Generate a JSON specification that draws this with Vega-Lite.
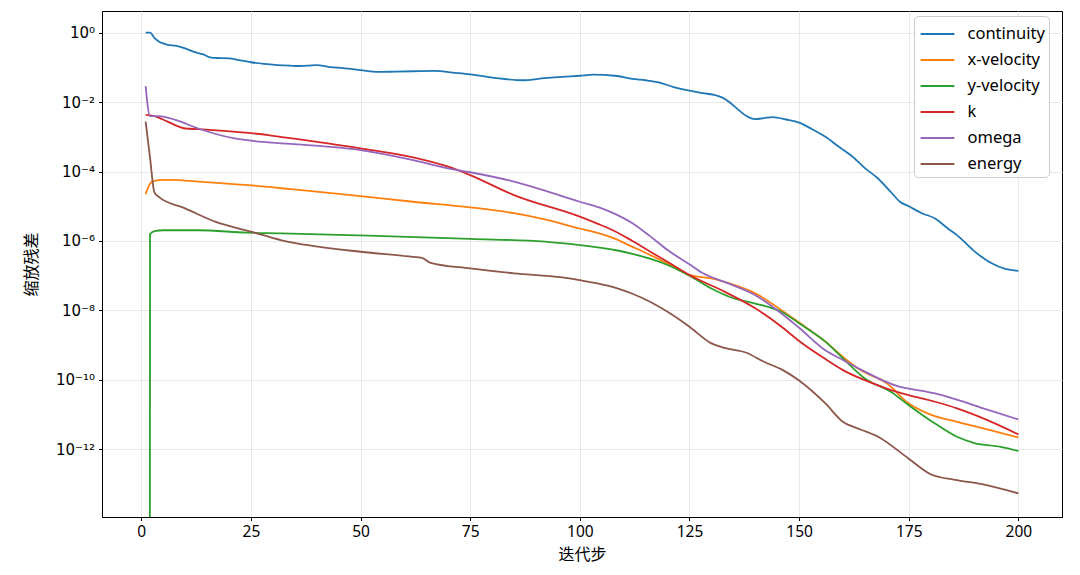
{
  "$schema": "https://vega.github.io/schema/vega-lite/v6.json",
  "width": 960,
  "height": 506,
  "autosize": {"type": "none"},
  "padding": {"left": 102, "top": 11, "right": 18, "bottom": 58},
  "background": "white",
  "data": {
    "values": [
      {"s": "continuity", "i": 1, "v": 1.0},
      {"s": "continuity", "i": 2, "v": 1.0},
      {"s": "continuity", "i": 3, "v": 0.708},
      {"s": "continuity", "i": 4, "v": 0.562},
      {"s": "continuity", "i": 5, "v": 0.49},
      {"s": "continuity", "i": 6, "v": 0.447},
      {"s": "continuity", "i": 8, "v": 0.417},
      {"s": "continuity", "i": 10, "v": 0.355},
      {"s": "continuity", "i": 12, "v": 0.282},
      {"s": "continuity", "i": 14, "v": 0.24},
      {"s": "continuity", "i": 16, "v": 0.191},
      {"s": "continuity", "i": 18, "v": 0.186},
      {"s": "continuity", "i": 20, "v": 0.182},
      {"s": "continuity", "i": 22, "v": 0.166},
      {"s": "continuity", "i": 25, "v": 0.141},
      {"s": "continuity", "i": 28, "v": 0.126},
      {"s": "continuity", "i": 31, "v": 0.117},
      {"s": "continuity", "i": 34, "v": 0.112},
      {"s": "continuity", "i": 36, "v": 0.11},
      {"s": "continuity", "i": 38, "v": 0.112},
      {"s": "continuity", "i": 40, "v": 0.117},
      {"s": "continuity", "i": 43, "v": 0.102},
      {"s": "continuity", "i": 46, "v": 0.0955},
      {"s": "continuity", "i": 50, "v": 0.0841},
      {"s": "continuity", "i": 54, "v": 0.0741},
      {"s": "continuity", "i": 58, "v": 0.0759},
      {"s": "continuity", "i": 62, "v": 0.0776},
      {"s": "continuity", "i": 67, "v": 0.0794},
      {"s": "continuity", "i": 71, "v": 0.0708},
      {"s": "continuity", "i": 75, "v": 0.0631},
      {"s": "continuity", "i": 81, "v": 0.049},
      {"s": "continuity", "i": 87, "v": 0.0427},
      {"s": "continuity", "i": 92, "v": 0.049},
      {"s": "continuity", "i": 96, "v": 0.0537},
      {"s": "continuity", "i": 100, "v": 0.0575},
      {"s": "continuity", "i": 103, "v": 0.0617},
      {"s": "continuity", "i": 108, "v": 0.0575},
      {"s": "continuity", "i": 112, "v": 0.0468},
      {"s": "continuity", "i": 115, "v": 0.0427},
      {"s": "continuity", "i": 118, "v": 0.0372},
      {"s": "continuity", "i": 121, "v": 0.0282},
      {"s": "continuity", "i": 123, "v": 0.024},
      {"s": "continuity", "i": 125, "v": 0.0214},
      {"s": "continuity", "i": 128, "v": 0.0182},
      {"s": "continuity", "i": 131, "v": 0.0158},
      {"s": "continuity", "i": 133, "v": 0.0126},
      {"s": "continuity", "i": 134, "v": 0.0102},
      {"s": "continuity", "i": 136, "v": 0.0063},
      {"s": "continuity", "i": 138, "v": 0.00398},
      {"s": "continuity", "i": 140, "v": 0.00324},
      {"s": "continuity", "i": 142, "v": 0.00347},
      {"s": "continuity", "i": 144, "v": 0.00372},
      {"s": "continuity", "i": 147, "v": 0.00316},
      {"s": "continuity", "i": 150, "v": 0.00257},
      {"s": "continuity", "i": 153, "v": 0.00166},
      {"s": "continuity", "i": 156, "v": 0.001},
      {"s": "continuity", "i": 159, "v": 0.000525},
      {"s": "continuity", "i": 162, "v": 0.000282},
      {"s": "continuity", "i": 165, "v": 0.000126},
      {"s": "continuity", "i": 168, "v": 6.31e-5},
      {"s": "continuity", "i": 171, "v": 2.51e-5},
      {"s": "continuity", "i": 173, "v": 1.35e-5},
      {"s": "continuity", "i": 175, "v": 1.0e-5},
      {"s": "continuity", "i": 178, "v": 6.31e-6},
      {"s": "continuity", "i": 181, "v": 4.47e-6},
      {"s": "continuity", "i": 184, "v": 2.24e-6},
      {"s": "continuity", "i": 186, "v": 1.48e-6},
      {"s": "continuity", "i": 190, "v": 5.01e-7},
      {"s": "continuity", "i": 194, "v": 2.24e-7},
      {"s": "continuity", "i": 197, "v": 1.58e-7},
      {"s": "continuity", "i": 200, "v": 1.38e-7},

      {"s": "x-velocity", "i": 1, "v": 2.24e-5},
      {"s": "x-velocity", "i": 2, "v": 4.47e-5},
      {"s": "x-velocity", "i": 3, "v": 5.37e-5},
      {"s": "x-velocity", "i": 5, "v": 5.75e-5},
      {"s": "x-velocity", "i": 7, "v": 5.75e-5},
      {"s": "x-velocity", "i": 10, "v": 5.5e-5},
      {"s": "x-velocity", "i": 13, "v": 5.13e-5},
      {"s": "x-velocity", "i": 21, "v": 4.37e-5},
      {"s": "x-velocity", "i": 29, "v": 3.63e-5},
      {"s": "x-velocity", "i": 32, "v": 3.31e-5},
      {"s": "x-velocity", "i": 36, "v": 2.95e-5},
      {"s": "x-velocity", "i": 50, "v": 1.95e-5},
      {"s": "x-velocity", "i": 62, "v": 1.35e-5},
      {"s": "x-velocity", "i": 75, "v": 9.33e-6},
      {"s": "x-velocity", "i": 85, "v": 6.31e-6},
      {"s": "x-velocity", "i": 92, "v": 4.17e-6},
      {"s": "x-velocity", "i": 100, "v": 2.29e-6},
      {"s": "x-velocity", "i": 105, "v": 1.58e-6},
      {"s": "x-velocity", "i": 108, "v": 1.17e-6},
      {"s": "x-velocity", "i": 112, "v": 6.76e-7},
      {"s": "x-velocity", "i": 114, "v": 5.25e-7},
      {"s": "x-velocity", "i": 120, "v": 2.24e-7},
      {"s": "x-velocity", "i": 125, "v": 1.05e-7},
      {"s": "x-velocity", "i": 130, "v": 8.32e-8},
      {"s": "x-velocity", "i": 133, "v": 6.61e-8},
      {"s": "x-velocity", "i": 140, "v": 3.09e-8},
      {"s": "x-velocity", "i": 146, "v": 1.02e-8},
      {"s": "x-velocity", "i": 150, "v": 4.47e-9},
      {"s": "x-velocity", "i": 156, "v": 1.26e-9},
      {"s": "x-velocity", "i": 160, "v": 4.57e-10},
      {"s": "x-velocity", "i": 164, "v": 1.91e-10},
      {"s": "x-velocity", "i": 170, "v": 7.94e-11},
      {"s": "x-velocity", "i": 175, "v": 2.09e-11},
      {"s": "x-velocity", "i": 180, "v": 1.0e-11},
      {"s": "x-velocity", "i": 186, "v": 6.17e-12},
      {"s": "x-velocity", "i": 192, "v": 3.98e-12},
      {"s": "x-velocity", "i": 200, "v": 2.19e-12},

      {"s": "y-velocity", "i": 1, "v": 1e-300},
      {"s": "y-velocity", "i": 2, "v": 1.58e-6},
      {"s": "y-velocity", "i": 3, "v": 1.91e-6},
      {"s": "y-velocity", "i": 5, "v": 2.04e-6},
      {"s": "y-velocity", "i": 13, "v": 2.04e-6},
      {"s": "y-velocity", "i": 24, "v": 1.74e-6},
      {"s": "y-velocity", "i": 32, "v": 1.66e-6},
      {"s": "y-velocity", "i": 50, "v": 1.45e-6},
      {"s": "y-velocity", "i": 75, "v": 1.15e-6},
      {"s": "y-velocity", "i": 92, "v": 9.55e-7},
      {"s": "y-velocity", "i": 100, "v": 7.59e-7},
      {"s": "y-velocity", "i": 105, "v": 6.31e-7},
      {"s": "y-velocity", "i": 108, "v": 5.5e-7},
      {"s": "y-velocity", "i": 112, "v": 4.27e-7},
      {"s": "y-velocity", "i": 116, "v": 3.09e-7},
      {"s": "y-velocity", "i": 120, "v": 2.04e-7},
      {"s": "y-velocity", "i": 125, "v": 1.0e-7},
      {"s": "y-velocity", "i": 130, "v": 4.27e-8},
      {"s": "y-velocity", "i": 135, "v": 2.24e-8},
      {"s": "y-velocity", "i": 140, "v": 1.58e-8},
      {"s": "y-velocity", "i": 146, "v": 9.12e-9},
      {"s": "y-velocity", "i": 150, "v": 4.27e-9},
      {"s": "y-velocity", "i": 156, "v": 1.26e-9},
      {"s": "y-velocity", "i": 160, "v": 4.17e-10},
      {"s": "y-velocity", "i": 165, "v": 1.1e-10},
      {"s": "y-velocity", "i": 171, "v": 4.47e-11},
      {"s": "y-velocity", "i": 175, "v": 1.86e-11},
      {"s": "y-velocity", "i": 181, "v": 5.5e-12},
      {"s": "y-velocity", "i": 186, "v": 2.29e-12},
      {"s": "y-velocity", "i": 190, "v": 1.51e-12},
      {"s": "y-velocity", "i": 196, "v": 1.17e-12},
      {"s": "y-velocity", "i": 200, "v": 8.91e-13},

      {"s": "k", "i": 1, "v": 4.27e-3},
      {"s": "k", "i": 3, "v": 3.98e-3},
      {"s": "k", "i": 6, "v": 2.75e-3},
      {"s": "k", "i": 10, "v": 1.74e-3},
      {"s": "k", "i": 13, "v": 1.66e-3},
      {"s": "k", "i": 21, "v": 1.41e-3},
      {"s": "k", "i": 29, "v": 1.12e-3},
      {"s": "k", "i": 32, "v": 9.77e-4},
      {"s": "k", "i": 36, "v": 8.51e-4},
      {"s": "k", "i": 50, "v": 4.68e-4},
      {"s": "k", "i": 62, "v": 2.57e-4},
      {"s": "k", "i": 70, "v": 1.38e-4},
      {"s": "k", "i": 75, "v": 7.94e-5},
      {"s": "k", "i": 85, "v": 2.09e-5},
      {"s": "k", "i": 100, "v": 5.01e-6},
      {"s": "k", "i": 104, "v": 3.16e-6},
      {"s": "k", "i": 108, "v": 1.91e-6},
      {"s": "k", "i": 112, "v": 1.0e-6},
      {"s": "k", "i": 116, "v": 5.01e-7},
      {"s": "k", "i": 120, "v": 2.51e-7},
      {"s": "k", "i": 125, "v": 1.05e-7},
      {"s": "k", "i": 133, "v": 3.47e-8},
      {"s": "k", "i": 140, "v": 1.15e-8},
      {"s": "k", "i": 146, "v": 3.39e-9},
      {"s": "k", "i": 150, "v": 1.32e-9},
      {"s": "k", "i": 156, "v": 3.98e-10},
      {"s": "k", "i": 160, "v": 1.91e-10},
      {"s": "k", "i": 165, "v": 9.77e-11},
      {"s": "k", "i": 170, "v": 5.62e-11},
      {"s": "k", "i": 175, "v": 3.63e-11},
      {"s": "k", "i": 181, "v": 2.34e-11},
      {"s": "k", "i": 186, "v": 1.51e-11},
      {"s": "k", "i": 192, "v": 7.76e-12},
      {"s": "k", "i": 200, "v": 2.69e-12},

      {"s": "omega", "i": 1, "v": 0.0288},
      {"s": "omega", "i": 2, "v": 3.98e-3},
      {"s": "omega", "i": 4, "v": 3.98e-3},
      {"s": "omega", "i": 8, "v": 3.02e-3},
      {"s": "omega", "i": 13, "v": 1.74e-3},
      {"s": "omega", "i": 21, "v": 9.12e-4},
      {"s": "omega", "i": 29, "v": 6.92e-4},
      {"s": "omega", "i": 36, "v": 6.03e-4},
      {"s": "omega", "i": 50, "v": 4.17e-4},
      {"s": "omega", "i": 62, "v": 2.14e-4},
      {"s": "omega", "i": 70, "v": 1.23e-4},
      {"s": "omega", "i": 75, "v": 9.55e-5},
      {"s": "omega", "i": 85, "v": 5.13e-5},
      {"s": "omega", "i": 100, "v": 1.35e-5},
      {"s": "omega", "i": 105, "v": 8.71e-6},
      {"s": "omega", "i": 108, "v": 6.03e-6},
      {"s": "omega", "i": 112, "v": 3.24e-6},
      {"s": "omega", "i": 116, "v": 1.38e-6},
      {"s": "omega", "i": 120, "v": 5.5e-7},
      {"s": "omega", "i": 125, "v": 2.14e-7},
      {"s": "omega", "i": 128, "v": 1.2e-7},
      {"s": "omega", "i": 133, "v": 6.61e-8},
      {"s": "omega", "i": 140, "v": 2.75e-8},
      {"s": "omega", "i": 146, "v": 8.13e-9},
      {"s": "omega", "i": 150, "v": 3.16e-9},
      {"s": "omega", "i": 156, "v": 7.08e-10},
      {"s": "omega", "i": 160, "v": 3.72e-10},
      {"s": "omega", "i": 164, "v": 2.0e-10},
      {"s": "omega", "i": 173, "v": 6.31e-11},
      {"s": "omega", "i": 175, "v": 5.62e-11},
      {"s": "omega", "i": 181, "v": 4.07e-11},
      {"s": "omega", "i": 186, "v": 2.69e-11},
      {"s": "omega", "i": 192, "v": 1.51e-11},
      {"s": "omega", "i": 200, "v": 7.24e-12},

      {"s": "energy", "i": 1, "v": 2.75e-3},
      {"s": "energy", "i": 2, "v": 2.51e-4},
      {"s": "energy", "i": 3, "v": 2.51e-5},
      {"s": "energy", "i": 4, "v": 1.86e-5},
      {"s": "energy", "i": 10, "v": 8.71e-6},
      {"s": "energy", "i": 17, "v": 3.55e-6},
      {"s": "energy", "i": 25, "v": 1.86e-6},
      {"s": "energy", "i": 32, "v": 1.05e-6},
      {"s": "energy", "i": 39, "v": 7.24e-7},
      {"s": "energy", "i": 50, "v": 4.9e-7},
      {"s": "energy", "i": 62, "v": 3.47e-7},
      {"s": "energy", "i": 64, "v": 3.24e-7},
      {"s": "energy", "i": 66, "v": 2.34e-7},
      {"s": "energy", "i": 75, "v": 1.62e-7},
      {"s": "energy", "i": 85, "v": 1.17e-7},
      {"s": "energy", "i": 96, "v": 8.91e-8},
      {"s": "energy", "i": 100, "v": 7.41e-8},
      {"s": "energy", "i": 104, "v": 6.03e-8},
      {"s": "energy", "i": 108, "v": 4.57e-8},
      {"s": "energy", "i": 112, "v": 3.02e-8},
      {"s": "energy", "i": 116, "v": 1.78e-8},
      {"s": "energy", "i": 120, "v": 9.12e-9},
      {"s": "energy", "i": 125, "v": 3.39e-9},
      {"s": "energy", "i": 130, "v": 1.12e-9},
      {"s": "energy", "i": 133, "v": 8.32e-10},
      {"s": "energy", "i": 138, "v": 6.03e-10},
      {"s": "energy", "i": 142, "v": 3.31e-10},
      {"s": "energy", "i": 146, "v": 2.0e-10},
      {"s": "energy", "i": 150, "v": 9.55e-11},
      {"s": "energy", "i": 156, "v": 2.09e-11},
      {"s": "energy", "i": 160, "v": 6.17e-12},
      {"s": "energy", "i": 164, "v": 3.72e-12},
      {"s": "energy", "i": 168, "v": 2.29e-12},
      {"s": "energy", "i": 175, "v": 5.37e-13},
      {"s": "energy", "i": 180, "v": 1.91e-13},
      {"s": "energy", "i": 186, "v": 1.29e-13},
      {"s": "energy", "i": 192, "v": 9.77e-14},
      {"s": "energy", "i": 200, "v": 5.37e-14}
    ]
  },
  "mark": {"type": "line", "strokeWidth": 1.8, "clip": true, "interpolate": "monotone"},
  "encoding": {
    "x": {
      "field": "i",
      "type": "quantitative",
      "scale": {"domain": [-8.95, 209.95], "nice": false, "zero": false},
      "axis": {
        "title": "迭代步",
        "values": [0, 25, 50, 75, 100, 125, 150, 175, 200],
        "format": "d",
        "titlePadding": 6
      }
    },
    "y": {
      "field": "v",
      "type": "quantitative",
      "scale": {"type": "log", "domain": [1.12e-14, 4.22], "nice": false},
      "axis": {
        "title": "缩放残差",
        "values": [1e-12, 1e-10, 1e-8, 1e-6, 1e-4, 1e-2, 1],
        "labelExpr": "'10' + (datum.value >= 0.5 ? '⁰' : '⁻' + replace(replace(replace(replace(replace(replace(format(-log(datum.value) / LN10, '.0f'), '1', '¹'), '2', '²'), '0', '⁰'), '4', '⁴'), '6', '⁶'), '8', '⁸'))",
        "labelFont": "DejaVu Sans",
        "labelFontSize": 15,
        "titlePadding": 16
      }
    },
    "color": {
      "field": "s",
      "type": "nominal",
      "sort": ["continuity", "x-velocity", "y-velocity", "k", "omega", "energy"],
      "scale": {
        "domain": ["continuity", "x-velocity", "y-velocity", "k", "omega", "energy"],
        "range": ["#1f77b4", "#ff7f0e", "#2ca02c", "#d62728", "#9467bd", "#8c564b"]
      },
      "legend": {
        "title": null,
        "orient": "none",
        "legendX": 812,
        "legendY": 5,
        "padding": 4,
        "fillColor": "rgba(255,255,255,0.85)",
        "strokeColor": "#cccccc",
        "cornerRadius": 4,
        "symbolType": "M-1.3,0H1.3",
        "symbolSize": 676,
        "symbolStrokeWidth": 2,
        "symbolOffset": 5.5,
        "labelFont": "Noto Sans",
        "labelFontSize": 16.5,
        "labelColor": "black",
        "labelOffset": 16,
        "rowPadding": 3
      }
    }
  },
  "config": {
    "view": {"stroke": "black", "strokeWidth": 1},
    "axis": {
      "domainColor": "black",
      "tickColor": "black",
      "tickSize": 3.5,
      "labelFont": "Noto Sans",
      "labelFontSize": 15.5,
      "labelColor": "black",
      "labelPadding": 4,
      "gridColor": "#e8e8e8",
      "gridWidth": 1,
      "titleFont": "Noto Sans CJK SC",
      "titleFontSize": 16,
      "titleFontWeight": "normal",
      "titleColor": "black"
    }
  }
}
